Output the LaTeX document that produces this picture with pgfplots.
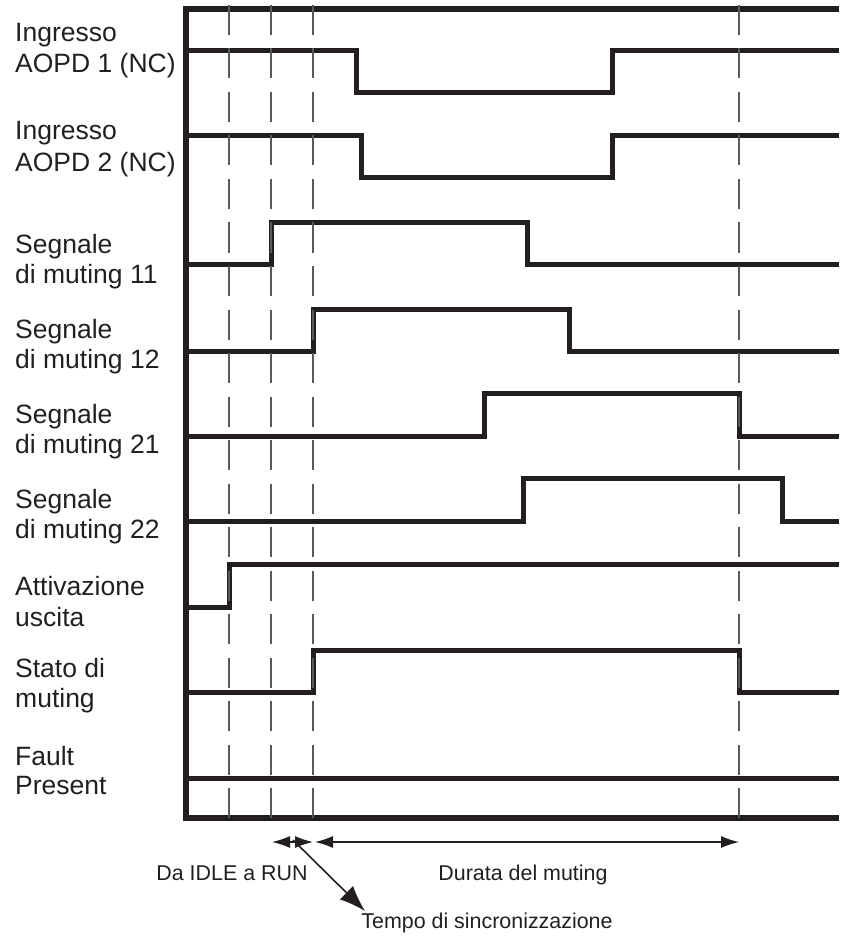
\documentclass[border=0pt]{standalone}
\usepackage{fontspec}
\setmainfont{Liberation Sans}
\usepackage{pgfplots}
\pgfplotsset{compat=1.18}
\usetikzlibrary{arrows.meta}
\definecolor{ink}{HTML}{231F20}
\definecolor{dashc}{HTML}{5A5A5A}
\tikzset{
  signal/.style={ink, line width=5bp, line join=miter},
  lab/.style={font=\fontsize{26.6}{31}\selectfont, text=ink, anchor=base west, inner sep=0pt},
  blab/.style={font=\fontsize{21.5}{25}\selectfont, text=ink, anchor=base, inner sep=0pt},
}
\begin{document}
\begin{tikzpicture}
\begin{axis}[
  width=839bp, height=939bp, scale only axis,
  xmin=0, xmax=839, ymin=0, ymax=939, y dir=reverse,
  hide axis, clip=false,
]
\addplot[draw=none, no markers] coordinates {(0,0) (839,939)};
% frame
\addplot[signal, line width=6bp, no markers] coordinates {(839,9) (186,9) (186,818) (839,818)};
% signals
\addplot[signal, no markers] coordinates {(186,51) (356,51) (356,93) (612,93) (612,51) (839,51)};
\addplot[signal, no markers] coordinates {(186,136) (361,136) (361,178) (612,178) (612,136) (839,136)};
\addplot[signal, no markers] coordinates {(186,264) (271,264) (271,222) (527,222) (527,264) (839,264)};
\addplot[signal, no markers] coordinates {(186,351) (313,351) (313,309) (569,309) (569,351) (839,351)};
\addplot[signal, no markers] coordinates {(186,436) (484,436) (484,393) (739,393) (739,436) (839,436)};
\addplot[signal, no markers] coordinates {(186,521) (523,521) (523,478) (782,478) (782,521) (839,521)};
\addplot[signal, no markers] coordinates {(186,607) (229,607) (229,564) (839,564)};
\addplot[signal, no markers] coordinates {(186,692) (313,692) (313,650) (739,650) (739,692) (839,692)};
\addplot[signal, no markers] coordinates {(186,778) (839,778)};
% dashed guides
\addplot[dashc, line width=2.5bp, dash pattern=on 30bp off 13.5bp, no markers] coordinates {(229,5) (229,818)};
\addplot[dashc, line width=2.5bp, dash pattern=on 30bp off 13.5bp, no markers] coordinates {(271,5) (271,818)};
\addplot[dashc, line width=2.5bp, dash pattern=on 30bp off 13.5bp, no markers] coordinates {(313,5) (313,818)};
\addplot[dashc, line width=2.5bp, dash pattern=on 30bp off 13.5bp, no markers] coordinates {(739,5) (739,818)};
% arrows
\addplot[ink, line width=1.3bp, no markers, {Latex[length=18bp,width=12bp]}-{Latex[length=18bp,width=12bp]}] coordinates {(272,842) (313,842)};
\addplot[ink, line width=1.3bp, no markers, {Latex[length=18bp,width=12bp]}-{Latex[length=18bp,width=12bp]}] coordinates {(315,842) (739,842)};
\addplot[ink, line width=1.6bp, no markers, -{Latex[length=26bp,width=19bp]}] coordinates {(293,840) (365,911)};
% left labels
\node[lab] at (axis cs:15,42) {Ingresso};
\node[lab] at (axis cs:15,73) {AOPD 1 (NC)};
\node[lab] at (axis cs:15,140) {Ingresso};
\node[lab] at (axis cs:15,172) {AOPD 2 (NC)};
\node[lab] at (axis cs:15,253) {Segnale};
\node[lab] at (axis cs:15,283) {di muting 11};
\node[lab] at (axis cs:15,338) {Segnale};
\node[lab] at (axis cs:15,368) {di muting 12};
\node[lab] at (axis cs:15,423) {Segnale};
\node[lab] at (axis cs:15,453) {di muting 21};
\node[lab] at (axis cs:15,508) {Segnale};
\node[lab] at (axis cs:15,538) {di muting 22};
\node[lab] at (axis cs:15,595) {Attivazione};
\node[lab] at (axis cs:15,626) {uscita};
\node[lab] at (axis cs:15,677) {Stato di};
\node[lab] at (axis cs:15,707) {muting};
\node[lab] at (axis cs:15,765) {Fault};
\node[lab] at (axis cs:15,794) {Present};
% bottom labels
\node[blab] at (axis cs:232,880) {Da IDLE a RUN};
\node[blab] at (axis cs:523,880) {Durata del muting};
\node[blab] at (axis cs:487,928) {Tempo di sincronizzazione};
\end{axis}
\end{tikzpicture}
\end{document}
